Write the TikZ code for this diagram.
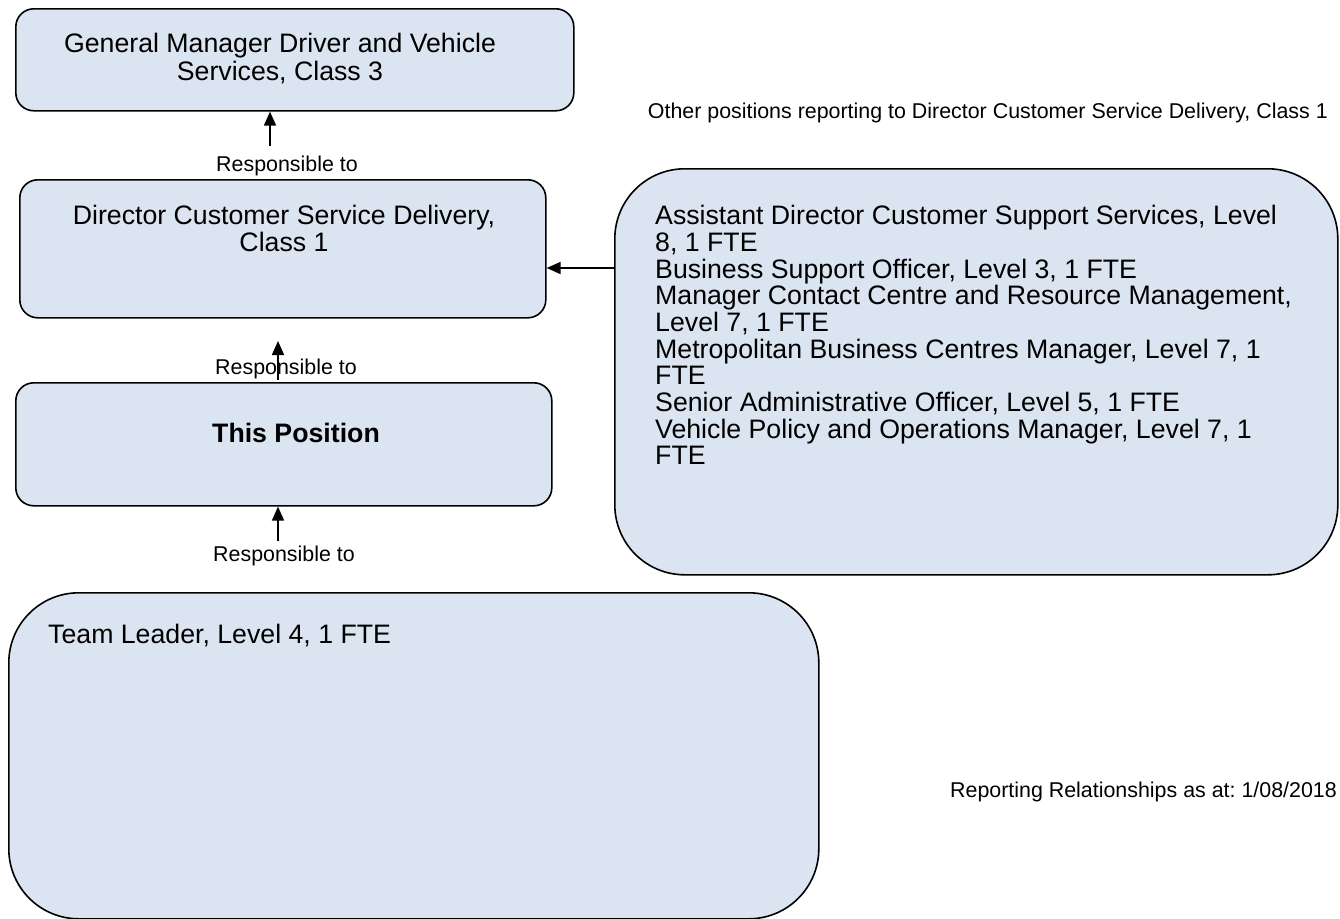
\documentclass[tikz,border=0pt]{standalone}
\usepackage{fontspec}
\setmainfont{Liberation Sans}
\usetikzlibrary{arrows.meta}
\definecolor{boxfill}{RGB}{219,228,241}
\begin{document}
\frenchspacing
\begin{tikzpicture}[x=1pt,y=-1pt,
  box/.style={draw=black, line width=1.6pt, fill=boxfill, inner sep=0pt, anchor=north west},
  smallbox/.style={box, rounded corners=18pt},
  bigbox/.style={box, rounded corners=70pt},
  maintext/.style={inner sep=0pt, font=\fontsize{26.7}{27.5}\selectfont},
  smalltext/.style={inner sep=0pt, font=\fontsize{21.4}{25}\selectfont},
  arr/.style={line width=1.6pt, -{Triangle[width=12pt,length=14pt]}}]
\useasboundingbox (0,0) rectangle (1340,918);

% boxes
\node[smallbox, minimum width=558pt, minimum height=102pt] (gm) at (15,8) {};
\node[smallbox, minimum width=526pt, minimum height=138pt] (dir) at (19,179) {};
\node[smallbox, minimum width=536pt, minimum height=123pt] (pos) at (15,382) {};
\node[bigbox, minimum width=723pt, minimum height=406pt] (oth) at (614,168) {};
\node[bigbox, minimum width=810pt, minimum height=326pt] (team) at (8,592) {};

% box texts
\node[maintext, align=center] (gmt) at (280,58.5) {General Manager Driver and Vehicle\\Services, Class 3};
\node[maintext, align=center] (dirt) at (284,228.5) {Director Customer Service Delivery,\\Class 1};
\node[maintext, font=\fontsize{26.7}{27.5}\selectfont\bfseries] (post) at (296,433) {This Position};
\node[maintext, align=left, anchor=west, font=\fontsize{26.7}{26.67}\selectfont] (otht) at (655,335) {Assistant Director Customer Support Services, Level\\8, 1 FTE\\Business Support Officer, Level 3, 1 FTE\\Manager Contact Centre and Resource Management,\\Level 7, 1 FTE\\Metropolitan Business Centres Manager, Level 7, 1\\FTE\\Senior Administrative Officer, Level 5, 1 FTE\\Vehicle Policy and Operations Manager, Level 7, 1\\FTE};
\node[maintext, anchor=west] (teamt) at (48,636) {Team Leader, Level 4, 1 FTE};

% free-standing labels
\node[smalltext, anchor=east] (other) at (1328,113) {Other positions reporting to Director Customer Service Delivery, Class 1};
\node[smalltext, anchor=east] (date) at (1337,792) {Reporting Relationships as at: 1/08/2018};
\node[smalltext] (r1) at (287,166) {Responsible to};
\node[smalltext] (r2) at (286,369) {Responsible to};
\node[smalltext] (r3) at (284,556) {Responsible to};

% connectors
\coordinate (a1) at (270,146);
\draw[arr] (a1) -- (a1 |- gm.south);
\coordinate (a2) at (278,380);
\coordinate (a2e) at (278,341);
\draw[arr] (a2) -- (a2e);
\coordinate (a3) at (278,541);
\draw[arr] (a3) -- (a3 |- pos.south);
\coordinate (h) at (oth.west |- 0,268);
\draw[arr] (h) -- (h -| dir.east);
\end{tikzpicture}
\end{document}
